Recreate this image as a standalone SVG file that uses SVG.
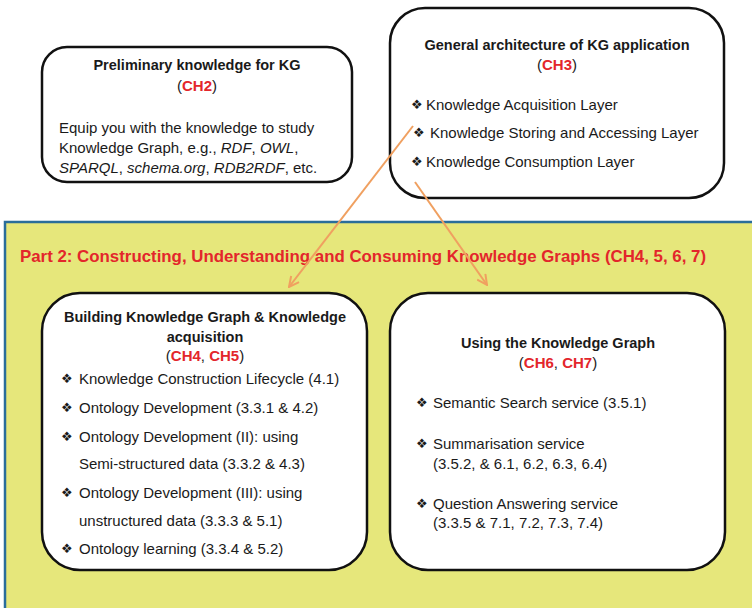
<svg xmlns="http://www.w3.org/2000/svg" width="752" height="608" viewBox="0 0 752 608">
<style>
.box{fill:#fff;stroke:#111;stroke-width:2.5}
.t{font-family:"Liberation Sans",Arial,sans-serif;font-size:15px;fill:#1a1a1a}
.b{font-weight:bold;font-size:14.5px}
.c{text-anchor:middle}
.r{fill:#e3262b;font-weight:bold}
.bl{font-family:"DejaVu Sans",sans-serif;font-size:13px}
.arr{stroke:#f0a060;stroke-width:2;fill:none}
</style>
<defs>
<marker id="ah" viewBox="0 0 12 12" refX="11" refY="6" markerWidth="12" markerHeight="12" markerUnits="userSpaceOnUse" orient="auto">
<path d="M1,1 L11,6 L1,11" fill="none" stroke="#f0a060" stroke-width="2"/>
</marker>
</defs>
<rect width="752" height="608" fill="#fff"/>
<rect x="5" y="222" width="760" height="400" fill="#e6e77b" stroke="#2a6d9a" stroke-width="2.5"/>
<text class="t" x="20" y="262" style="font-size:17px;font-weight:bold;fill:#e3262b" textLength="686" lengthAdjust="spacingAndGlyphs">Part 2: Constructing, Understanding and Consuming Knowledge Graphs (CH4, 5, 6, 7)</text>

<g id="prelim">
<rect class="box" x="42" y="47" width="310" height="135" rx="25"/>
<text class="t b c" x="197" y="70">Preliminary knowledge for KG</text>
<text class="t c" x="197" y="91">(<tspan class="r">CH2</tspan>)</text>
<text class="t" x="59" y="133">Equip you with the knowledge to study</text>
<text class="t" x="59" y="153">Knowledge Graph, e.g., <tspan font-style="italic">RDF</tspan>, <tspan font-style="italic">OWL</tspan>,</text>
<text class="t" x="59" y="173"><tspan font-style="italic">SPARQL</tspan>, <tspan font-style="italic">schema.org</tspan>, <tspan font-style="italic">RDB2RDF</tspan>, etc.</text>
</g>

<g id="arch">
<rect class="box" x="390" y="8" width="334" height="190" rx="35"/>
<text class="t b c" x="557" y="50">General architecture of KG application</text>
<text class="t c" x="557" y="70">(<tspan class="r">CH3</tspan>)</text>
<text class="t bl" x="411" y="109">❖</text>
<text class="t" x="426" y="110">Knowledge Acquisition Layer</text>
<text class="t bl" x="413" y="137">❖</text>
<text class="t" x="430" y="138">Knowledge Storing and Accessing Layer</text>
<text class="t bl" x="411" y="166">❖</text>
<text class="t" x="426" y="167">Knowledge Consumption Layer</text>
</g>

<g id="building">
<rect class="box" x="42" y="293" width="325" height="277" rx="38"/>
<text class="t b c" x="205" y="322">Building Knowledge Graph &amp; Knowledge</text>
<text class="t b c" x="205" y="342">acquisition</text>
<text class="t c" x="205" y="361">(<tspan class="r">CH4</tspan>, <tspan class="r">CH5</tspan>)</text>
<text class="t bl" x="61" y="383">❖</text>
<text class="t" x="79" y="384">Knowledge Construction Lifecycle (4.1)</text>
<text class="t bl" x="61" y="412">❖</text>
<text class="t" x="79" y="413">Ontology Development (3.3.1 &amp; 4.2)</text>
<text class="t bl" x="61" y="441">❖</text>
<text class="t" x="79" y="442">Ontology Development (II): using</text>
<text class="t" x="79" y="469">Semi-structured data (3.3.2 &amp; 4.3)</text>
<text class="t bl" x="61" y="497">❖</text>
<text class="t" x="79" y="498">Ontology Development (III): using</text>
<text class="t" x="79" y="526">unstructured data (3.3.3 &amp; 5.1)</text>
<text class="t bl" x="61" y="553">❖</text>
<text class="t" x="79" y="554">Ontology learning (3.3.4 &amp; 5.2)</text>
</g>

<g id="using">
<rect class="box" x="390" y="293" width="335" height="277" rx="38"/>
<text class="t b c" x="558" y="348">Using the Knowledge Graph</text>
<text class="t c" x="558" y="368">(<tspan class="r">CH6</tspan>, <tspan class="r">CH7</tspan>)</text>
<text class="t bl" x="416" y="407">❖</text>
<text class="t" x="433" y="408">Semantic Search service (3.5.1)</text>
<text class="t bl" x="416" y="448">❖</text>
<text class="t" x="433" y="449">Summarisation service</text>
<text class="t" x="433" y="469">(3.5.2, &amp; 6.1, 6.2, 6.3, 6.4)</text>
<text class="t bl" x="416" y="508">❖</text>
<text class="t" x="433" y="509">Question Answering service</text>
<text class="t" x="433" y="528">(3.3.5 &amp; 7.1, 7.2, 7.3, 7.4)</text>
</g>

<g id="connectors">
<line class="arr" x1="413" y1="126" x2="289" y2="287" marker-end="url(#ah)"/>
<line class="arr" x1="415" y1="182" x2="487" y2="285" marker-end="url(#ah)"/>
</g>
</svg>
